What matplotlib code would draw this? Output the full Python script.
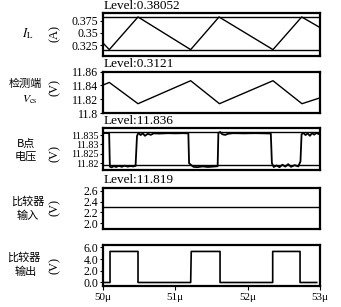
import matplotlib
matplotlib.use("Agg")
import matplotlib.pyplot as plt

plt.rcParams['font.family'] = ['Liberation Serif', 'Noto Sans CJK SC', 'DejaVu Sans']
plt.rcParams['mathtext.fontset'] = 'stix'

# ---------------- data ----------------
x_ticks = [50, 51, 52, 53]
x_ticklabels = ["50\u03bc", "51\u03bc", "52\u03bc", "53\u03bc"]

# Panel 1: inductor current I_L (A)
il_t = [50.00, 50.087, 50.484, 51.212, 51.604, 52.35, 52.747, 53.0]
il_v = [0.3298, 0.3164, 0.3824, 0.3164, 0.3824, 0.3164, 0.3824, 0.3610]
il_levels = [0.3824, 0.3164]
il_ticks = [0.325, 0.35, 0.375]
il_ticklabels = ["0.325", "0.35", "0.375"]

# Panel 2: sense voltage Vcs (V)
vcs_t = [50.00, 50.087, 50.484, 51.212, 51.610, 52.35, 52.751, 53.0]
vcs_v = [11.8406, 11.8444, 11.8135, 11.8469, 11.8135, 11.8469, 11.8135, 11.822]
vcs_ticks = [11.80, 11.82, 11.84, 11.86]
vcs_ticklabels = ["11.8", "11.82", "11.84", "11.86"]

# Panel 3: node B voltage (V)
b_t = [50.00, 50.03, 50.07, 50.085, 50.095, 50.12, 50.15, 50.18, 50.22, 50.26,
       50.30, 50.34, 50.38, 50.42, 50.45, 50.47, 50.49, 50.52, 50.55, 50.58,
       50.62, 50.66, 50.70, 50.78, 50.90, 51.00, 51.10, 51.18, 51.19, 51.22,
       51.25, 51.30, 51.38, 51.45, 51.52, 51.585, 51.595, 51.62, 51.65, 51.69,
       51.73, 51.80, 51.95, 52.10, 52.25, 52.32, 52.335, 52.36, 52.40, 52.44,
       52.48, 52.52, 52.56, 52.60, 52.65, 52.70, 52.73, 52.745, 52.77, 52.80,
       52.83, 52.86, 52.89, 52.92, 52.95, 52.98]
b_v = [11.8358, 11.8361, 11.8360, 11.8358, 11.8182, 11.8178, 11.8185, 11.8180, 11.8186, 11.8181,
       11.8187, 11.8182, 11.8185, 11.8183, 11.8186, 11.8345, 11.8362, 11.8350, 11.8359, 11.8346,
       11.8357, 11.8351, 11.8359, 11.8358, 11.8360, 11.8359, 11.8360, 11.8359, 11.8200, 11.8190,
       11.8181, 11.8179, 11.8183, 11.8180, 11.8182, 11.8184, 11.8362, 11.8366, 11.8354, 11.8351,
       11.8357, 11.8360, 11.8359, 11.8360, 11.8359, 11.8358, 11.8200, 11.8180, 11.8188, 11.8179,
       11.8192, 11.8182, 11.8195, 11.8181, 11.8190, 11.8183, 11.8210, 11.8354, 11.8361, 11.8350,
       11.8359, 11.8346, 11.8360, 11.8352, 11.8361, 11.8356]
b_levels = [11.8367, 11.8189]
b_ticks = [11.82, 11.825, 11.83, 11.835]
b_ticklabels = ["11.82", "11.825", "11.83", "11.835"]

# Panel 4: comparator input (V)
cin_t = [50.0, 53.0]
cin_v = [2.3, 2.3]
cin_ticks = [2.0, 2.2, 2.4, 2.6]
cin_ticklabels = ["2.0", "2.2", "2.4", "2.6"]

# Panel 5: comparator output (V)
cout_t = [50.0, 50.097, 50.097, 50.484, 50.484, 51.212, 51.22, 51.618, 51.618,
          52.346, 52.346, 52.724, 52.724, 52.954]
cout_v = [0.0, 0.0, 5.3, 5.3, 0.0, 0.0, 5.3, 5.3, 0.0, 0.0, 5.3, 5.3, 0.0, 0.0]
cout_ticks = [0.0, 2.0, 4.0, 6.0]
cout_ticklabels = ["0.0", "2.0", "4.0", "6.0"]

level_texts = ["Level:0.38052", "Level:0.3121", "Level:11.836", "Level:11.819"]

# ---------------- layout ----------------
W, H = 341, 307
fig = plt.figure(figsize=(W / 100, H / 100), dpi=100)

def fx(px):
    return px / W

def fy(py):
    return 1 - py / H

left, right = 103, 320
boxes = [(13.3, 56), (71.7, 113), (128.3, 170), (187.7, 228.5), (245, 286)]
axes = []
for top, bot in boxes:
    ax = fig.add_axes([fx(left), fy(bot), fx(right) - fx(left), (bot - top) / H])
    axes.append(ax)

lw_data = 1.0
for ax in axes:
    ax.set_xlim(50, 53)
    for s in ax.spines.values():
        s.set_linewidth(1.6)
        s.set_color('black')
    ax.tick_params(axis='y', direction='out', length=2.5, width=0.8, pad=1,
                   labelsize=8.5, left=True, right=False)
    ax.tick_params(axis='x', bottom=False, top=False, labelbottom=False)

# Panel 1
ax = axes[0]
ax.plot(il_t, il_v, color='black', lw=lw_data)
for lv in il_levels:
    ax.axhline(lv, color='black', lw=lw_data)
ax.set_ylim(0.3035, 0.3898)
ax.set_yticks(il_ticks)
ax.set_yticklabels(il_ticklabels)

# Panel 2
ax = axes[1]
ax.plot(vcs_t, vcs_v, color='black', lw=lw_data)
ax.set_ylim(11.80, 11.86)
ax.set_yticks(vcs_ticks)
ax.set_yticklabels(vcs_ticklabels)

# Panel 3
ax = axes[2]
ax.plot(b_t, b_v, color='black', lw=lw_data * 1.3)
for lv in b_levels:
    ax.axhline(lv, color='black', lw=lw_data)
ax.set_ylim(11.8164, 11.8386)
ax.set_yticks(b_ticks)
ax.set_yticklabels(b_ticklabels)
ax.tick_params(axis='y', labelsize=7.3)

# Panel 4
ax = axes[3]
ax.plot(cin_t, cin_v, color='black', lw=lw_data)
ax.set_ylim(1.9, 2.66)
ax.set_yticks(cin_ticks)
ax.set_yticklabels(cin_ticklabels)

# Panel 5
ax = axes[4]
ax.plot(cout_t, cout_v, color='black', lw=lw_data * 1.2)
ax.set_ylim(-0.6, 6.4)
ax.set_yticks(cout_ticks)
ax.set_yticklabels(cout_ticklabels)
ax.set_xticks(x_ticks)
ax.set_xticklabels(x_ticklabels)
ax.tick_params(axis='x', bottom=True, labelbottom=True, direction='out',
               length=3, width=0.8, labelsize=8, pad=2)

# Level annotations
for ax, txt in zip(axes[:4], level_texts):
    ax.text(0.005, 1.03, txt, transform=ax.transAxes, ha='left', va='bottom',
            fontsize=9.5)

# Left-side labels
cjk = ['Noto Sans CJK SC', 'DejaVu Sans']
fig.text(fx(28), fy(34), r"$I_{\mathrm{L}}$", ha='center', va='center', fontsize=9)
fig.text(fx(25), fy(84), "检测端", ha='center', va='center', fontsize=8, family=cjk)
fig.text(fx(30), fy(100), r"$V_{\mathrm{cs}}$", ha='center', va='center', fontsize=8.5)
fig.text(fx(26), fy(144), "B点", ha='center', va='center', fontsize=8, family=cjk)
fig.text(fx(26), fy(157), "电压", ha='center', va='center', fontsize=8, family=cjk)
fig.text(fx(28), fy(202), "比较器", ha='center', va='center', fontsize=8, family=cjk)
fig.text(fx(28), fy(216), "输入", ha='center', va='center', fontsize=8, family=cjk)
fig.text(fx(24), fy(257), "比较器", ha='center', va='center', fontsize=8, family=cjk)
fig.text(fx(26), fy(272), "输出", ha='center', va='center', fontsize=8, family=cjk)

units = [("(A)", 34), ("(V)", 88), ("(V)", 153), ("(V)", 208), ("(V)", 265)]
for u, ypx in units:
    fig.text(fx(55), fy(ypx), u, ha='center', va='center', rotation=90, fontsize=9)

fig.savefig("out.png", dpi=100)
